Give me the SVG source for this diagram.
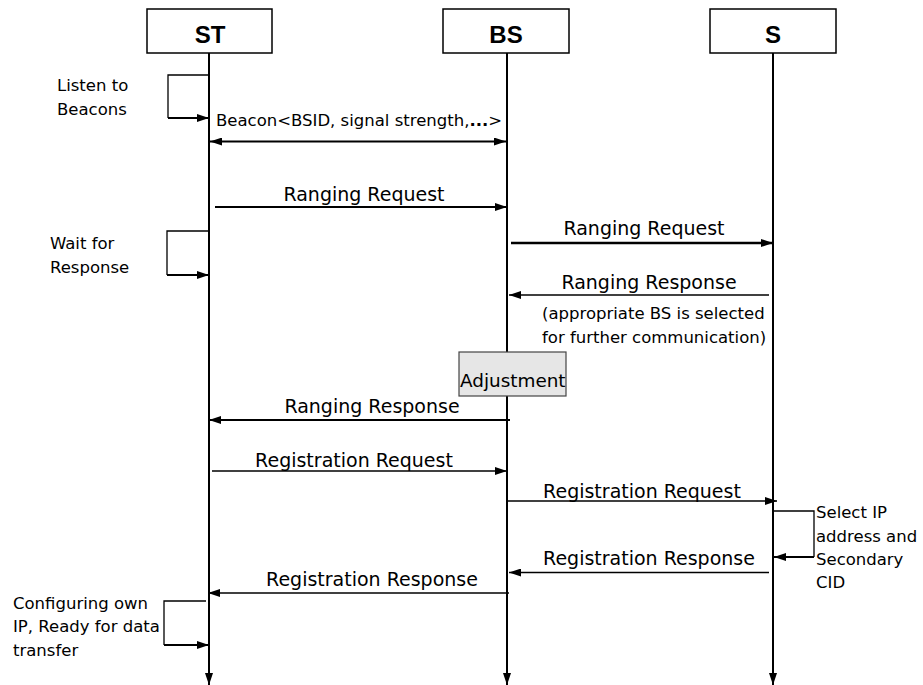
<svg xmlns="http://www.w3.org/2000/svg" width="923" height="685" viewBox="0 0 923 685">
  <defs>
    <marker id="ah" viewBox="0 0 12 8" refX="12" refY="4" markerWidth="12" markerHeight="8" markerUnits="userSpaceOnUse" orient="auto-start-reverse">
      <path d="M0,0 L12,4 L0,8 z" fill="#000"/>
    </marker>
  </defs>
  <style>
    .box { fill: #fff; stroke: #000; stroke-width: 1.5; }
    .head { font-family: "Liberation Sans", Arial, sans-serif; font-weight: bold; font-size: 24px; text-anchor: middle; }
    .life { stroke: #000; stroke-width: 2; fill: none; }
    .msg { stroke: #000; fill: none; }
    .lbl { font-family: "DejaVu Sans", "Noto Sans", sans-serif; font-size: 19px; text-anchor: middle; fill: #000; }
    .note { font-family: "DejaVu Sans", "Noto Sans", sans-serif; font-size: 16.5px; fill: #000; }
    .big { font-size: 18.4px; }
    .loop { stroke: #000; stroke-width: 1.3; fill: none; }
  </style>

  <!-- participants -->
  <g id="ST">
    <rect class="box" x="147" y="9" width="125" height="44"/>
    <text class="head" x="210" y="43">ST</text>
  </g>
  <g id="BS">
    <rect class="box" x="443" y="9" width="126" height="44"/>
    <text class="head" x="506" y="43">BS</text>
  </g>
  <g id="S">
    <rect class="box" x="710" y="9" width="126" height="44"/>
    <text class="head" x="773" y="43">S</text>
  </g>

  <!-- lifelines -->
  <g id="lifelines">
    <line class="life" x1="209" y1="53" x2="209" y2="685" marker-end="url(#ah)"/>
    <line class="life" x1="507" y1="53" x2="507" y2="685" marker-end="url(#ah)"/>
    <line class="life" x1="773" y1="53" x2="773" y2="685" marker-end="url(#ah)"/>
  </g>

  <!-- messages -->
  <g id="connectors">
    <line class="msg" stroke-width="2" x1="210" y1="141.5" x2="506" y2="141.5" marker-start="url(#ah)" marker-end="url(#ah)"/>
    <line class="msg" stroke-width="2" x1="215" y1="207" x2="507" y2="207" marker-end="url(#ah)"/>
    <line class="msg" stroke-width="2.5" x1="511" y1="243" x2="773" y2="243" marker-end="url(#ah)"/>
    <line class="msg" stroke-width="1.3" x1="769" y1="295" x2="509" y2="295" marker-end="url(#ah)"/>
    <line class="msg" stroke-width="2" x1="510" y1="420" x2="209" y2="420" marker-end="url(#ah)"/>
    <line class="msg" stroke-width="1.5" x1="212" y1="471" x2="507" y2="471" marker-end="url(#ah)"/>
    <line class="msg" stroke-width="1.5" x1="507" y1="501" x2="777" y2="501" marker-end="url(#ah)"/>
    <line class="msg" stroke-width="1.7" x1="769" y1="572.5" x2="509" y2="572.5" marker-end="url(#ah)"/>
    <line class="msg" stroke-width="1.7" x1="509" y1="593" x2="208" y2="593" marker-end="url(#ah)"/>

    <!-- self loops -->
    <path class="loop" d="M209,75 H168 V118"/>
    <line class="msg" stroke-width="2" x1="168" y1="118" x2="209" y2="118" marker-end="url(#ah)"/>
    <path class="loop" d="M209,231 H167 V275"/>
    <line class="msg" stroke-width="2" x1="167" y1="275" x2="209" y2="275" marker-end="url(#ah)"/>
    <path class="loop" d="M206,601 H164 V645"/>
    <line class="msg" stroke-width="2" x1="164" y1="645" x2="209" y2="645" marker-end="url(#ah)"/>
    <path class="loop" d="M773,511 H814 V557"/>
    <line class="msg" stroke-width="2" x1="814" y1="557" x2="774" y2="557" marker-end="url(#ah)"/>
  </g>

  <!-- message labels -->
  <g id="labels">
    <text class="note" x="216" y="126">Beacon&lt;BSID, signal strength,<tspan font-weight="bold">...</tspan>&gt;</text>
    <text class="lbl" x="364" y="201">Ranging Request</text>
    <text class="lbl" x="644" y="235">Ranging Request</text>
    <text class="lbl" x="649" y="289">Ranging Response</text>
    <text class="note" x="542" y="319">(appropriate BS is selected</text>
    <text class="note" x="542" y="343">for further communication)</text>
    <text class="lbl" x="372" y="413">Ranging Response</text>
    <text class="lbl" x="354" y="467">Registration Request</text>
    <text class="lbl" x="642" y="498">Registration Request</text>
    <text class="lbl" x="649" y="565">Registration Response</text>
    <text class="lbl" x="372" y="586">Registration Response</text>
  </g>

  <!-- activity notes -->
  <g id="listen">
    <text class="note" x="57" y="91">Listen to</text>
    <text class="note" x="57" y="115">Beacons</text>
  </g>
  <g id="wait">
    <text class="note" x="50" y="249">Wait for</text>
    <text class="note" x="50" y="273">Response</text>
  </g>
  <g id="adjustment">
    <rect x="459" y="352" width="107" height="44" fill="#e6e6e6" stroke="#444" stroke-width="1.2"/>
    <text class="note big" x="460" y="387">Adjustment</text>
  </g>
  <g id="configure">
    <text class="note" x="13" y="609">Configuring own</text>
    <text class="note" x="13" y="632">IP, Ready for data</text>
    <text class="note" x="13" y="656">transfer</text>
  </g>
  <g id="select">
    <text class="note" x="816" y="518">Select IP</text>
    <text class="note" x="816" y="542">address and</text>
    <text class="note" x="816" y="565">Secondary</text>
    <text class="note" x="816" y="588">CID</text>
  </g>
</svg>
